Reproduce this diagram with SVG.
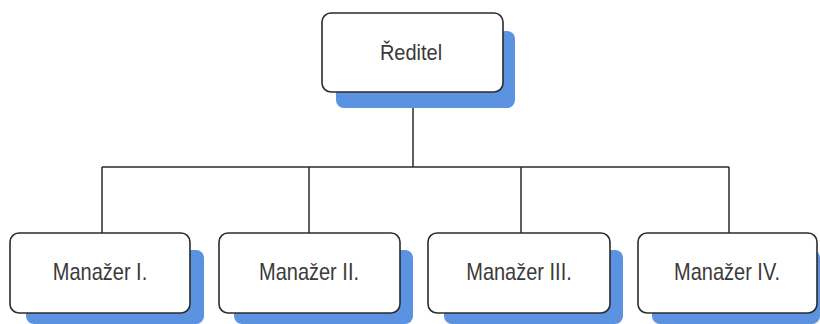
<svg xmlns="http://www.w3.org/2000/svg" width="820" height="324" viewBox="0 0 820 324">
<style>
.sh{fill:#5b93e0;}
.bx{fill:#fff;stroke:#2b2b2b;stroke-width:1.6;}
.lb{font-family:"Liberation Sans",Arial,sans-serif;font-size:20px;fill:#3a3a3a;text-anchor:middle;}
.cn{fill:none;stroke:#2b2b2b;stroke-width:1.5;}
</style>
<rect width="820" height="324" fill="#fff"/>
<g id="connectors">
<path class="cn" d="M413 92V167M102 167H729M102 167V233M309 167V233M521 167V233M729 167V233"/>
</g>
<g id="reditel">
<rect class="sh" x="336" y="31" width="179" height="77" rx="8"/>
<rect class="bx" x="322" y="13" width="181" height="79" rx="9"/>
<text class="lb" transform="translate(411,59.5) scale(1,1.1)">Ředitel</text>
</g>
<g id="manazer1">
<rect class="sh" x="26" y="250" width="178" height="74" rx="8"/>
<rect class="bx" x="10" y="233" width="180" height="80" rx="9"/>
<text class="lb" transform="translate(100,279.5) scale(1,1.18)">Manažer I.</text>
</g>
<g id="manazer2">
<rect class="sh" x="234" y="250" width="179" height="74" rx="8"/>
<rect class="bx" x="219" y="233" width="181" height="80" rx="9"/>
<text class="lb" transform="translate(309,279.5) scale(1,1.18)">Manažer II.</text>
</g>
<g id="manazer3">
<rect class="sh" x="444" y="250" width="179" height="74" rx="8"/>
<rect class="bx" x="428" y="233" width="182" height="80" rx="9"/>
<text class="lb" transform="translate(519,279.5) scale(1,1.18)">Manažer III.</text>
</g>
<g id="manazer4">
<rect class="sh" x="652" y="250" width="168" height="74" rx="8"/>
<rect class="bx" x="638" y="233" width="179" height="80" rx="9"/>
<text class="lb" transform="translate(727,279.5) scale(1,1.18)">Manažer IV.</text>
</g>
</svg>
